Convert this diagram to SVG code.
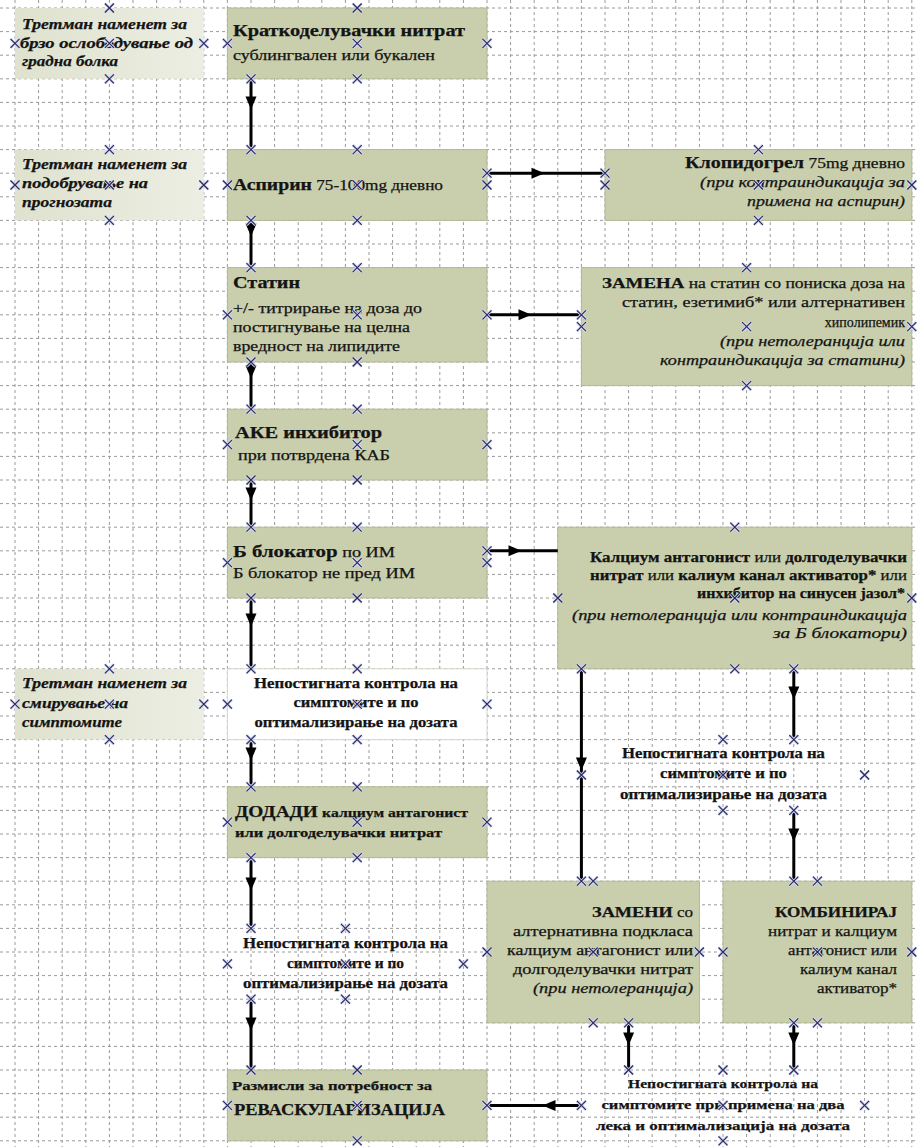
<svg xmlns="http://www.w3.org/2000/svg" xmlns:xlink="http://www.w3.org/1999/xlink" width="918" height="1147" viewBox="0 0 918 1147">
<style>
.grid{stroke:#9a9a9a;stroke-width:1;stroke-dasharray:3 3;fill:none}
.box{fill:#c9cfad;stroke:#b3b995;stroke-width:1}
.lbl{fill:url(#lg);stroke:none}
.wbox{fill:#ffffff;stroke:#d6d6cc;stroke-width:1}
text{font-family:"Liberation Serif","DejaVu Serif",serif;font-size:14px;fill:#141414;stroke:#141414;stroke-width:0.25}
.b{font-weight:bold}
.i{font-style:italic}
.bi{font-weight:bold;font-style:italic;font-size:15px}
.big{font-size:16px;font-weight:bold}
.conn{stroke:#000;stroke-width:3;fill:none;marker-mid:url(#ah)}
</style>
<defs>
<linearGradient id="lg" x1="0" y1="0" x2="1" y2="0">
<stop offset="0" stop-color="#dfe2ce"/>
<stop offset="1" stop-color="#eceee3"/>
</linearGradient>
<marker id="ah" markerUnits="userSpaceOnUse" markerWidth="14" markerHeight="12" viewBox="-7 -6 14 12" refX="0" refY="0" orient="auto">
<path d="M-6.5,-5.5 L6.5,0 L-6.5,5.5 Z" fill="#000"/>
</marker>
<g id="cx">
<path d="M-4.5,-4.5 L4.5,4.5 M-4.5,4.5 L4.5,-4.5" stroke="#d4d8f4" stroke-width="3" fill="none"/>
<path d="M-4.5,-4.5 L4.5,4.5 M-4.5,4.5 L4.5,-4.5" stroke="#2a2a5c" stroke-width="1.2" fill="none"/>
</g>
</defs>
<rect width="918" height="1147" fill="#ffffff"/>
<path class="grid" d="M15,0V1147M38.6,0V1147M62.2,0V1147M85.8,0V1147M109.4,0V1147M133,0V1147M156.6,0V1147M180.2,0V1147M203.8,0V1147M227.4,0V1147M251,0V1147M274.6,0V1147M298.2,0V1147M321.8,0V1147M345.4,0V1147M369,0V1147M392.6,0V1147M416.2,0V1147M439.8,0V1147M463.4,0V1147M487,0V1147M510.6,0V1147M534.2,0V1147M557.8,0V1147M581.4,0V1147M605,0V1147M628.6,0V1147M652.2,0V1147M675.8,0V1147M699.4,0V1147M723,0V1147M746.6,0V1147M770.2,0V1147M793.8,0V1147M817.4,0V1147M841,0V1147M864.6,0V1147M888.2,0V1147M911.8,0V1147"/>
<path class="grid" d="M0,8H918M0,31.6H918M0,55.2H918M0,78.8H918M0,102.4H918M0,126H918M0,149.6H918M0,173.2H918M0,196.8H918M0,220.4H918M0,244H918M0,267.6H918M0,291.2H918M0,314.8H918M0,338.4H918M0,362H918M0,385.6H918M0,409.2H918M0,432.8H918M0,456.4H918M0,480H918M0,503.6H918M0,527.2H918M0,550.8H918M0,574.4H918M0,598H918M0,621.6H918M0,645.2H918M0,668.8H918M0,692.4H918M0,716H918M0,739.6H918M0,763.2H918M0,786.8H918M0,810.4H918M0,834H918M0,857.6H918M0,881.2H918M0,904.8H918M0,928.4H918M0,952H918M0,975.6H918M0,999.2H918M0,1022.8H918M0,1046.4H918M0,1070H918M0,1093.6H918M0,1117.2H918M0,1140.8H918"/>

<g id="lbl-relief">
<rect class="lbl" x="15" y="8" width="188.8" height="70.8"/>
<text class="bi" x="22" y="29" textLength="165" lengthAdjust="spacingAndGlyphs">Третман наменет за</text>
<text class="bi" x="20" y="48" textLength="173" lengthAdjust="spacingAndGlyphs">брзо ослободување од</text>
<text class="bi" x="22" y="66" textLength="96" lengthAdjust="spacingAndGlyphs">градна болка</text>
</g>
<g id="lbl-prognosis">
<rect class="lbl" x="15" y="149.6" width="188.8" height="70.8"/>
<text class="bi" x="22" y="169" textLength="165" lengthAdjust="spacingAndGlyphs">Третман наменет за</text>
<text class="bi" x="22" y="188" textLength="126" lengthAdjust="spacingAndGlyphs">подобрување на</text>
<text class="bi" x="22" y="207" textLength="90" lengthAdjust="spacingAndGlyphs">прогнозата</text>
</g>
<g id="lbl-symptoms">
<rect class="lbl" x="15" y="668.8" width="188.8" height="70.8"/>
<text class="bi" x="22" y="688" textLength="165" lengthAdjust="spacingAndGlyphs">Третман наменет за</text>
<text class="bi" x="22" y="708" textLength="106" lengthAdjust="spacingAndGlyphs">смирување на</text>
<text class="bi" x="22" y="727" textLength="100" lengthAdjust="spacingAndGlyphs">симптомите</text>
</g>

<g id="n-nitrate">
<rect class="box" x="227.4" y="8" width="259.6" height="70.8"/>
<text class="big" x="233" y="36" textLength="232" lengthAdjust="spacingAndGlyphs">Краткоделувачки нитрат</text>
<text x="233" y="60" textLength="202" lengthAdjust="spacingAndGlyphs">сублингвален или букален</text>
</g>
<g id="n-aspirin">
<rect class="box" x="227.4" y="149.6" width="259.6" height="70.8"/>
<text x="233" y="190" textLength="210" lengthAdjust="spacingAndGlyphs"><tspan class="big">Аспирин</tspan> 75-100mg дневно</text>
</g>
<g id="n-clopidogrel">
<rect class="box" x="605" y="149.6" width="306.8" height="70.8"/>
<text x="905" y="168" text-anchor="end" textLength="220" lengthAdjust="spacingAndGlyphs"><tspan class="big">Клопидогрел</tspan> 75mg дневно</text>
<text class="i" x="905" y="187" text-anchor="end" textLength="205" lengthAdjust="spacingAndGlyphs">(при контраиндикација за</text>
<text class="i" x="905" y="206" text-anchor="end" textLength="158" lengthAdjust="spacingAndGlyphs">примена на аспирин)</text>
</g>
<g id="n-statin">
<rect class="box" x="227.4" y="267.6" width="259.6" height="94.4"/>
<text class="big" x="233" y="288" textLength="67" lengthAdjust="spacingAndGlyphs">Статин</text>
<text x="233" y="313" textLength="189" lengthAdjust="spacingAndGlyphs">+/- титрирање на доза до</text>
<text x="233" y="332" textLength="177" lengthAdjust="spacingAndGlyphs">постигнување на целна</text>
<text x="233" y="351" textLength="167" lengthAdjust="spacingAndGlyphs">вредност на липидите</text>
</g>
<g id="n-statin-alt">
<rect class="box" x="581.4" y="267.6" width="330.4" height="118"/>
<text x="905" y="288" text-anchor="end" textLength="303" lengthAdjust="spacingAndGlyphs"><tspan class="b" style="font-size:15px">ЗАМЕНА</tspan> на статин со пониска доза на</text>
<text x="905" y="307" text-anchor="end" textLength="283" lengthAdjust="spacingAndGlyphs">статин, езетимиб* или  алтернативен</text>
<text x="905" y="327" text-anchor="end">хиполипемик</text>
<text class="i" x="905" y="346" text-anchor="end" textLength="185" lengthAdjust="spacingAndGlyphs">(при нетолеранција или</text>
<text class="i" x="905" y="365" text-anchor="end" textLength="245" lengthAdjust="spacingAndGlyphs">контраиндикација за статини)</text>
</g>
<g id="n-ace">
<rect class="box" x="227.4" y="409.2" width="259.6" height="70.8"/>
<text class="big" x="235" y="438" textLength="147" lengthAdjust="spacingAndGlyphs">АКЕ инхибитор</text>
<text x="238" y="460" textLength="152" lengthAdjust="spacingAndGlyphs">при потврдена КАБ</text>
</g>
<g id="n-beta">
<rect class="box" x="227.4" y="527.2" width="259.6" height="70.8"/>
<text x="233" y="557" textLength="162" lengthAdjust="spacingAndGlyphs"><tspan class="big">Б блокатор</tspan> по ИМ</text>
<text x="233" y="578" textLength="182" lengthAdjust="spacingAndGlyphs">Б блокатор не пред ИМ</text>
</g>
<g id="n-ca-alt">
<rect class="box" x="557.8" y="527.2" width="354" height="141.6"/>
<text x="907" y="562" text-anchor="end" textLength="317" lengthAdjust="spacingAndGlyphs"><tspan class="b">Калциум антагонист</tspan> или <tspan class="b">долгоделувачки</tspan></text>
<text x="907" y="580" text-anchor="end" textLength="317" lengthAdjust="spacingAndGlyphs"><tspan class="b">нитрат</tspan> или <tspan class="b">калиум канал активатор*</tspan> или</text>
<text class="b" x="905" y="598" text-anchor="end" textLength="208" lengthAdjust="spacingAndGlyphs">инхибитор на синусен јазол*</text>
<text class="i" x="907" y="620" text-anchor="end" textLength="335" lengthAdjust="spacingAndGlyphs">(при нетолеранција или контраиндикација</text>
<text class="i" x="907" y="638" text-anchor="end" textLength="134" lengthAdjust="spacingAndGlyphs">за Б блокатори)</text>
</g>
<g id="n-uncontrolled-1">
<rect class="wbox" x="227.4" y="668.8" width="259.6" height="70.8"/>
<text class="b" x="356" y="688" text-anchor="middle" textLength="204" lengthAdjust="spacingAndGlyphs">Непостигната контрола на</text>
<text class="b" x="356" y="707" text-anchor="middle" textLength="125" lengthAdjust="spacingAndGlyphs">симптомите и по</text>
<text class="b" x="356" y="727" text-anchor="middle" textLength="203" lengthAdjust="spacingAndGlyphs">оптимализирање на дозата</text>
</g>
<g id="n-uncontrolled-2">
<text class="b" x="723.5" y="758" text-anchor="middle" textLength="203" lengthAdjust="spacingAndGlyphs">Непостигната контрола на</text>
<text class="b" x="723.5" y="778" text-anchor="middle" textLength="127" lengthAdjust="spacingAndGlyphs">симптомите и по</text>
<text class="b" x="723.5" y="799" text-anchor="middle" textLength="207" lengthAdjust="spacingAndGlyphs">оптимализирање на дозата</text>
</g>
<g id="n-add">
<rect class="box" x="227.4" y="786.8" width="259.6" height="70.8"/>
<text class="b" x="235" y="817" textLength="233" lengthAdjust="spacingAndGlyphs"><tspan style="font-size:16px">ДОДАДИ</tspan> <tspan style="font-size:13px">калциум антагонист</tspan></text>
<text class="b" x="235" y="837" style="font-size:13px" textLength="207" lengthAdjust="spacingAndGlyphs">или долгоделувачки нитрат</text>
</g>
<g id="n-uncontrolled-3">
<text class="b" x="345.5" y="948" text-anchor="middle" textLength="205" lengthAdjust="spacingAndGlyphs">Непостигната контрола на</text>
<text class="b" x="345.5" y="968" text-anchor="middle" textLength="117" lengthAdjust="spacingAndGlyphs">симптомите и по</text>
<text class="b" x="345.5" y="988" text-anchor="middle" textLength="205" lengthAdjust="spacingAndGlyphs">оптимализирање на дозата</text>
</g>
<g id="n-replace">
<rect class="box" x="487" y="881.2" width="212.4" height="141.6"/>
<text x="693" y="917" text-anchor="end" textLength="101" lengthAdjust="spacingAndGlyphs"><tspan class="b" style="font-size:15px">ЗАМЕНИ</tspan> со</text>
<text x="693" y="936" text-anchor="end" textLength="180" lengthAdjust="spacingAndGlyphs">алтернативна подкласа</text>
<text x="693" y="955" text-anchor="end" textLength="186" lengthAdjust="spacingAndGlyphs">калциум антагонист или</text>
<text x="693" y="974" text-anchor="end" textLength="180" lengthAdjust="spacingAndGlyphs">долгоделувачки нитрат</text>
<text class="i" x="693" y="993" text-anchor="end" textLength="160" lengthAdjust="spacingAndGlyphs">(при нетолеранција)</text>
</g>
<g id="n-combine">
<rect class="box" x="723" y="881.2" width="188.8" height="141.6"/>
<text class="b" x="897" y="917" text-anchor="end" style="font-size:15px" textLength="122" lengthAdjust="spacingAndGlyphs">КОМБИНИРАЈ</text>
<text x="897" y="936" text-anchor="end" textLength="129" lengthAdjust="spacingAndGlyphs">нитрат и калциум</text>
<text x="897" y="955" text-anchor="end" textLength="109" lengthAdjust="spacingAndGlyphs">антагонист или</text>
<text x="897" y="974" text-anchor="end" textLength="97" lengthAdjust="spacingAndGlyphs">калиум канал</text>
<text x="897" y="993" text-anchor="end" textLength="80" lengthAdjust="spacingAndGlyphs">активатор*</text>
</g>
<g id="n-revasc">
<rect class="box" x="227.4" y="1070" width="259.6" height="70.8"/>
<text class="b" x="232" y="1090" style="font-size:13px" textLength="200" lengthAdjust="spacingAndGlyphs">Размисли за потребност за</text>
<text class="big" x="234" y="1115" textLength="211" lengthAdjust="spacingAndGlyphs">РЕВАСКУЛАРИЗАЦИЈА</text>
</g>
<g id="n-uncontrolled-4">
<text class="b" x="723" y="1088" text-anchor="middle" style="font-size:13px" textLength="190" lengthAdjust="spacingAndGlyphs">Непостигната контрола на</text>
<text class="b" x="723" y="1109" text-anchor="middle" style="font-size:13px" textLength="243" lengthAdjust="spacingAndGlyphs">симптомите при примена на два</text>
<text class="b" x="723" y="1130" text-anchor="middle" style="font-size:13px" textLength="254" lengthAdjust="spacingAndGlyphs">лека и оптимализација на дозата</text>
</g>

<g id="connectors">
<path class="conn" d="M251,78.8 V103 V149.6"/>
<path class="conn" d="M251,220.4 V230 V267.6"/>
<path class="conn" d="M251,362 V372 V409.2"/>
<path class="conn" d="M251,480 V494 V527.2"/>
<path class="conn" d="M251,598 V620 V668.8"/>
<path class="conn" d="M251,739.6 V754 V786.8"/>
<path class="conn" d="M251,857.6 V884 V928.4"/>
<path class="conn" d="M251,999.2 V1024 V1070"/>
<path class="conn" d="M581.4,668.8 V764 V881.2"/>
<path class="conn" d="M793.8,668.8 V693 V739.6"/>
<path class="conn" d="M793.8,810.4 V835 V881.2"/>
<path class="conn" d="M628.6,1022.8 V1039 V1070"/>
<path class="conn" d="M793.8,1022.8 V1039 V1070"/>
<path class="conn" d="M487,173.2 H538 H605"/>
<path class="conn" d="M487,314.8 H525 H581.4"/>
<path class="conn" d="M487,550.8 H515 H557.8"/>
<path class="conn" d="M581.4,1105.4 H549 H487"/>
</g>

<g id="connection-points">
<use xlink:href="#cx" x="109.4" y="8"/><use xlink:href="#cx" x="15" y="43.4"/><use xlink:href="#cx" x="109.4" y="43.4"/><use xlink:href="#cx" x="203.8" y="43.4"/><use xlink:href="#cx" x="109.4" y="78.8"/>
<use xlink:href="#cx" x="109.4" y="149.6"/><use xlink:href="#cx" x="15" y="185"/><use xlink:href="#cx" x="109.4" y="185"/><use xlink:href="#cx" x="203.8" y="185"/><use xlink:href="#cx" x="109.4" y="220.4"/>
<use xlink:href="#cx" x="109.4" y="668.8"/><use xlink:href="#cx" x="15" y="704.2"/><use xlink:href="#cx" x="109.4" y="704.2"/><use xlink:href="#cx" x="203.8" y="704.2"/><use xlink:href="#cx" x="109.4" y="739.6"/>
<use xlink:href="#cx" x="357.2" y="8"/><use xlink:href="#cx" x="227.4" y="43.4"/><use xlink:href="#cx" x="357.2" y="43.4"/><use xlink:href="#cx" x="487" y="43.4"/><use xlink:href="#cx" x="251" y="78.8"/><use xlink:href="#cx" x="357.2" y="78.8"/>
<use xlink:href="#cx" x="251" y="149.6"/><use xlink:href="#cx" x="357.2" y="149.6"/><use xlink:href="#cx" x="227.4" y="185"/><use xlink:href="#cx" x="357.2" y="185"/><use xlink:href="#cx" x="487" y="173.2"/><use xlink:href="#cx" x="487" y="185"/><use xlink:href="#cx" x="251" y="220.4"/><use xlink:href="#cx" x="357.2" y="220.4"/>
<use xlink:href="#cx" x="758.4" y="149.6"/><use xlink:href="#cx" x="605" y="173.2"/><use xlink:href="#cx" x="605" y="185"/><use xlink:href="#cx" x="758.4" y="185"/><use xlink:href="#cx" x="911.8" y="185"/><use xlink:href="#cx" x="758.4" y="220.4"/>
<use xlink:href="#cx" x="251" y="267.6"/><use xlink:href="#cx" x="357.2" y="267.6"/><use xlink:href="#cx" x="227.4" y="314.8"/><use xlink:href="#cx" x="357.2" y="314.8"/><use xlink:href="#cx" x="487" y="314.8"/><use xlink:href="#cx" x="251" y="362"/><use xlink:href="#cx" x="357.2" y="362"/>
<use xlink:href="#cx" x="746.6" y="267.6"/><use xlink:href="#cx" x="581.4" y="314.8"/><use xlink:href="#cx" x="581.4" y="326.6"/><use xlink:href="#cx" x="746.6" y="326.6"/><use xlink:href="#cx" x="911.8" y="326.6"/><use xlink:href="#cx" x="746.6" y="385.6"/>
<use xlink:href="#cx" x="251" y="409.2"/><use xlink:href="#cx" x="357.2" y="409.2"/><use xlink:href="#cx" x="227.4" y="444.6"/><use xlink:href="#cx" x="357.2" y="444.6"/><use xlink:href="#cx" x="487" y="444.6"/><use xlink:href="#cx" x="251" y="480"/><use xlink:href="#cx" x="357.2" y="480"/>
<use xlink:href="#cx" x="251" y="527.2"/><use xlink:href="#cx" x="357.2" y="527.2"/><use xlink:href="#cx" x="227.4" y="562.6"/><use xlink:href="#cx" x="357.2" y="562.6"/><use xlink:href="#cx" x="487" y="550.8"/><use xlink:href="#cx" x="487" y="562.6"/><use xlink:href="#cx" x="251" y="598"/><use xlink:href="#cx" x="357.2" y="598"/>
<use xlink:href="#cx" x="734.8" y="527.2"/><use xlink:href="#cx" x="557.8" y="598"/><use xlink:href="#cx" x="734.8" y="598"/><use xlink:href="#cx" x="911.8" y="598"/><use xlink:href="#cx" x="581.4" y="668.8"/><use xlink:href="#cx" x="734.8" y="668.8"/><use xlink:href="#cx" x="793.8" y="668.8"/>
<use xlink:href="#cx" x="251" y="668.8"/><use xlink:href="#cx" x="357.2" y="668.8"/><use xlink:href="#cx" x="227.4" y="704.2"/><use xlink:href="#cx" x="357.2" y="704.2"/><use xlink:href="#cx" x="487" y="704.2"/><use xlink:href="#cx" x="251" y="739.6"/><use xlink:href="#cx" x="357.2" y="739.6"/>
<use xlink:href="#cx" x="723" y="739.6"/><use xlink:href="#cx" x="793.8" y="739.6"/><use xlink:href="#cx" x="581.4" y="775"/><use xlink:href="#cx" x="723" y="775"/><use xlink:href="#cx" x="864.6" y="775"/><use xlink:href="#cx" x="723" y="810.4"/><use xlink:href="#cx" x="793.8" y="810.4"/>
<use xlink:href="#cx" x="251" y="786.8"/><use xlink:href="#cx" x="357.2" y="786.8"/><use xlink:href="#cx" x="227.4" y="822.2"/><use xlink:href="#cx" x="357.2" y="822.2"/><use xlink:href="#cx" x="487" y="822.2"/><use xlink:href="#cx" x="251" y="857.6"/><use xlink:href="#cx" x="357.2" y="857.6"/>
<use xlink:href="#cx" x="251" y="928.4"/><use xlink:href="#cx" x="345.4" y="928.4"/><use xlink:href="#cx" x="227.4" y="963.8"/><use xlink:href="#cx" x="345.4" y="963.8"/><use xlink:href="#cx" x="463.4" y="963.8"/><use xlink:href="#cx" x="251" y="999.2"/><use xlink:href="#cx" x="345.4" y="999.2"/>
<use xlink:href="#cx" x="581.4" y="881.2"/><use xlink:href="#cx" x="593.2" y="881.2"/><use xlink:href="#cx" x="487" y="952"/><use xlink:href="#cx" x="593.2" y="952"/><use xlink:href="#cx" x="699.4" y="952"/><use xlink:href="#cx" x="593.2" y="1022.8"/><use xlink:href="#cx" x="628.6" y="1022.8"/>
<use xlink:href="#cx" x="793.8" y="881.2"/><use xlink:href="#cx" x="817.4" y="881.2"/><use xlink:href="#cx" x="723" y="952"/><use xlink:href="#cx" x="817.4" y="952"/><use xlink:href="#cx" x="911.8" y="952"/><use xlink:href="#cx" x="793.8" y="1022.8"/><use xlink:href="#cx" x="817.4" y="1022.8"/>
<use xlink:href="#cx" x="251" y="1070"/><use xlink:href="#cx" x="357.2" y="1070"/><use xlink:href="#cx" x="227.4" y="1105.4"/><use xlink:href="#cx" x="357.2" y="1105.4"/><use xlink:href="#cx" x="487" y="1105.4"/><use xlink:href="#cx" x="357.2" y="1140.8"/>
<use xlink:href="#cx" x="628.6" y="1070"/><use xlink:href="#cx" x="723" y="1070"/><use xlink:href="#cx" x="793.8" y="1070"/><use xlink:href="#cx" x="581.4" y="1105.4"/><use xlink:href="#cx" x="723" y="1105.4"/><use xlink:href="#cx" x="864.6" y="1105.4"/><use xlink:href="#cx" x="723" y="1140.8"/>
</g>
</svg>
